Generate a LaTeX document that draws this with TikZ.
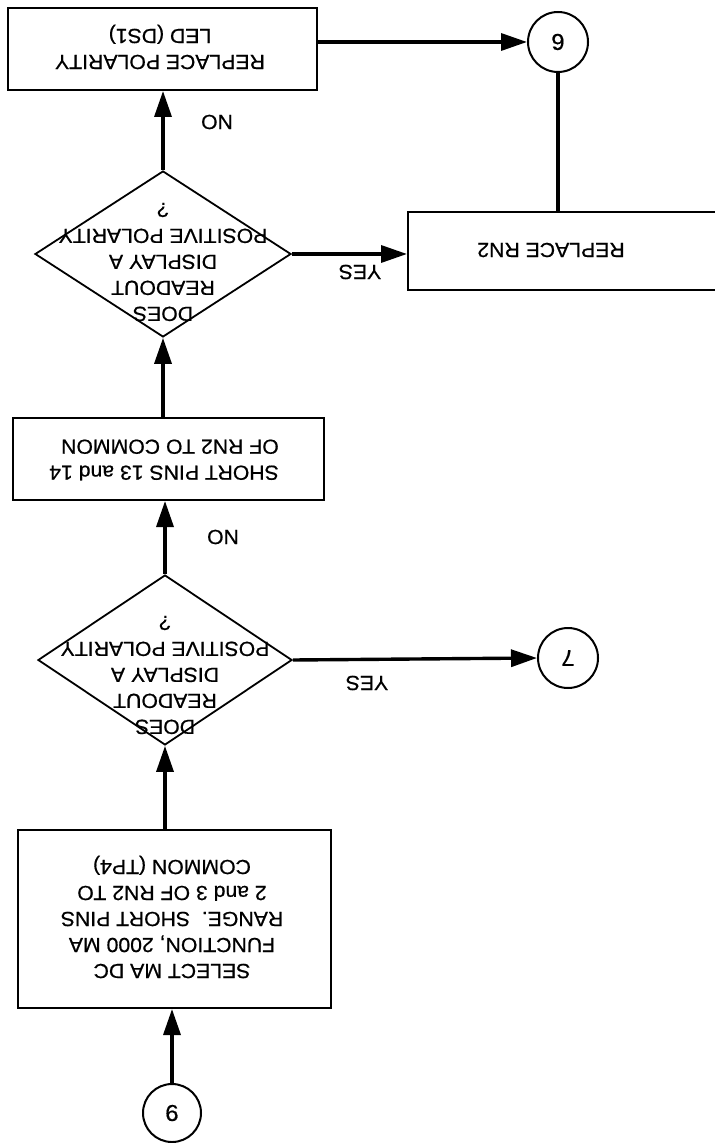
\documentclass[tikz,border=0pt]{standalone}
\usepackage{fontspec}
\usepackage{graphicx}
\setmainfont{Liberation Sans}[FakeStretch=1.04, FakeBold=0.6]
\usetikzlibrary{arrows.meta,shapes.geometric,calc}
\tikzset{
  flowtext/.style={rotate=180, font=\fontsize{10.2}{13}\selectfont, align=center, inner sep=0pt},
  procbox/.style={draw, line width=1pt, rectangle, inner sep=0pt},
  decision/.style={draw, line width=0.9pt, diamond, inner sep=0pt},
  connector/.style={draw, circle, line width=1pt, inner sep=0pt, minimum size=30pt,
    font=\fontsize{11.5}{11.5}\selectfont},
  flow/.style={line width=1.7pt, -{Triangle[length=13pt,width=8.5pt]}},
  plainflow/.style={line width=1.7pt},
}
\begin{document}
\begin{tikzpicture}[x=0.5pt, y=-0.5pt]
\useasboundingbox (0,0) rectangle (714,1143);

% process boxes (drawn empty, text set upside down on top)
\node[procbox, minimum width=154.5pt, minimum height=41pt] (led) at (162.5,49) {};
\node[procbox, minimum width=166pt, minimum height=39pt] (rn) at (574,251) {};
\node[procbox, minimum width=155.5pt, minimum height=41pt] (short) at (168.5,459) {};
\node[procbox, minimum width=156.5pt, minimum height=89pt] (sel) at (174.5,919) {};

% decisions
\node[decision, minimum width=128pt, minimum height=83pt] (d1) at (163,254) {};
\node[decision, minimum width=127pt, minimum height=85pt] (d2) at (165,660) {};

% off-page connectors
\node[connector] (c6) at (558,42) {\rotatebox{180}{6}};
\node[connector] (c7) at (568,658) {\rotatebox{180}{7}};
\node[connector, minimum size=29pt] (c9) at (172,1113) {\rotatebox{180}{9}};

% texts
\node[flowtext] (tled) at (160,47) {REPLACE POLARITY\\LED (DS1)};
\node[flowtext] (trn) at (551,250) {REPLACE RN2};
\node[flowtext, align=left] (tshort) at (164,460) {SHORT PINS 13 and 14\\OF RN2 TO COMMON};
\node[flowtext] (tsel) at (172,917) {SELECT MA DC\\FUNCTION, 2000 MA\\RANGE.\ \ SHORT PINS\\2 and 3 OF RN2 TO\\COMMON (TP4)};
\node[flowtext] (td1) at ($(d1.center)+(0,8)$) {DOES\\READOUT\\DISPLAY A\\POSITIVE POLARITY\\?};
\node[flowtext] (td2) at ($(d2.center)+(0,15)$) {DOES\\READOUT\\DISPLAY A\\POSITIVE POLARITY\\?};

% branch labels
\node[flowtext] (no1) at (217,122) {NO};
\node[flowtext] (yes1) at (360,272) {YES};
\node[flowtext] (no2) at (223,537) {NO};
\node[flowtext] (yes2) at (367,683) {YES};

% connectors
\draw[flow] (c9.north) -- (c9.north |- sel.south);
\draw[flow] (sel.north -| d2.south) -- (d2.south);
\draw[flow] (d2.north) -- (d2.north |- short.south);
\draw[flow] (short.north -| d1.south) -- (d1.south);
\draw[flow] (d1.north) -- (d1.north |- led.south);
\draw[flow] (c6.west -| led.east) -- (c6.west);
\draw[plainflow] (c6.south) -- (c6.south |- rn.north);
\draw[flow] (d1.east) -- (d1.east -| rn.west);
\draw[flow] (d2.east) -- (c7.west);
\end{tikzpicture}
\end{document}
